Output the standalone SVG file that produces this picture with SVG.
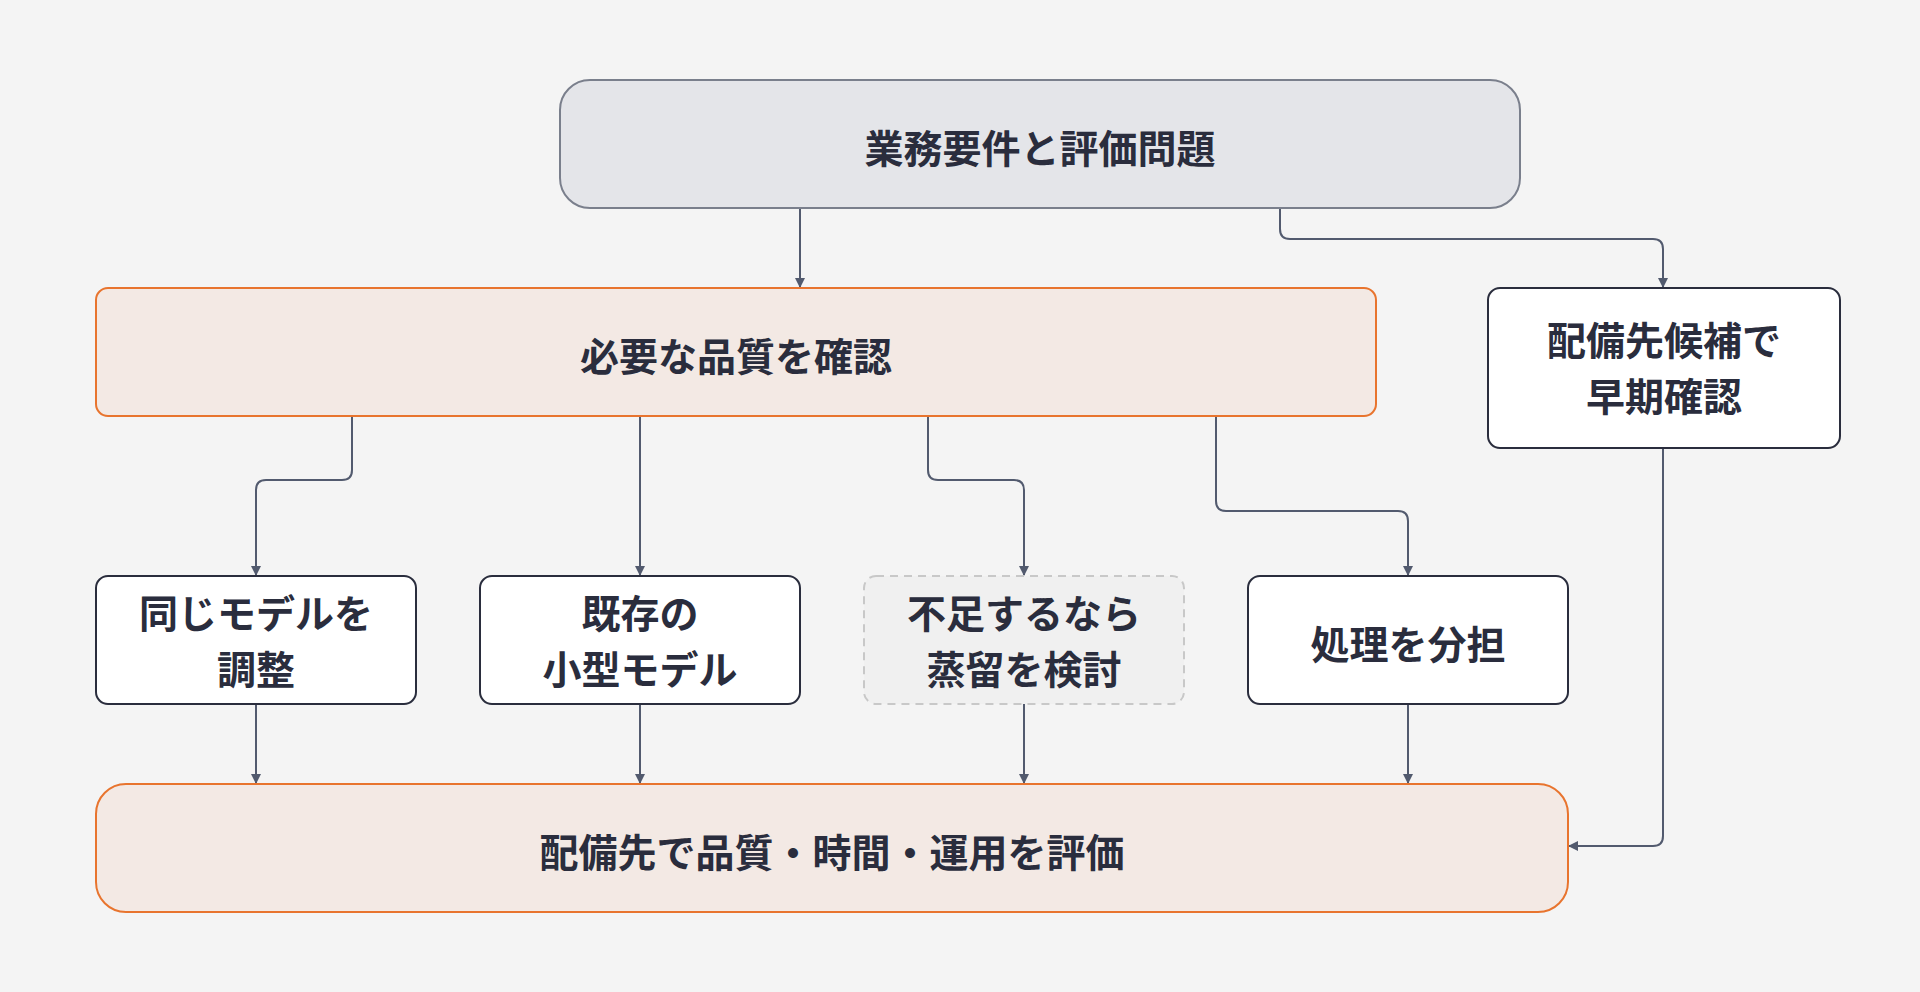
<svg xmlns="http://www.w3.org/2000/svg" width="1920" height="992" viewBox="0 0 1920 992">
<defs>
<marker id="ar" viewBox="0 0 10 10" refX="9" refY="5" markerWidth="10" markerHeight="10" markerUnits="userSpaceOnUse" orient="auto"><path d="M0,0 L10,5 L0,10 z" fill="#525a6e"/></marker>
<style>
text{font-family:"Noto Sans CJK JP","Noto Sans",sans-serif;font-weight:700;font-size:39px;fill:#2a2d3d;text-anchor:middle;dominant-baseline:central}
.c{fill:none;stroke:#525a6e;stroke-width:2;marker-end:url(#ar)}
.w{fill:#ffffff;stroke:#2a2d3d;stroke-width:2}
.o{fill:#f3e9e4;stroke:#e8742e;stroke-width:2}
</style>
</defs>
<rect width="1920" height="992" fill="#f4f4f4"/>
<g id="connectors">
<path class="c" d="M800,208 V287"/>
<path class="c" d="M1280,208 V229 Q1280,239 1290,239 H1653 Q1663,239 1663,249 V287"/>
<path class="c" d="M352,416 V470 Q352,480 342,480 H266 Q256,480 256,490 V575"/>
<path class="c" d="M640,416 V575"/>
<path class="c" d="M928,416 V470 Q928,480 938,480 H1014 Q1024,480 1024,490 V575"/>
<path class="c" d="M1216,416 V501 Q1216,511 1226,511 H1398 Q1408,511 1408,521 V575"/>
<path class="c" d="M256,704 V783"/>
<path class="c" d="M640,704 V783"/>
<path class="c" d="M1024,704 V783"/>
<path class="c" d="M1408,704 V783"/>
<path class="c" d="M1663,448 V836 Q1663,846 1653,846 H1569"/>
</g>
<g id="n1"><rect x="560" y="80" width="960" height="128" rx="30" fill="#e4e5e9" stroke="#7a7f8c" stroke-width="2"/><text x="1040" y="146">業務要件と評価問題</text></g>
<g id="n2"><rect class="o" x="96" y="288" width="1280" height="128" rx="12"/><text x="736" y="354">必要な品質を確認</text></g>
<g id="n3"><rect class="w" x="1488" y="288" width="352" height="160" rx="12"/><text x="1664" y="338">配備先候補で</text><text x="1664" y="394">早期確認</text></g>
<g id="n4"><rect class="w" x="96" y="576" width="320" height="128" rx="12"/><text x="256" y="611">同じモデルを</text><text x="256" y="667">調整</text></g>
<g id="n5"><rect class="w" x="480" y="576" width="320" height="128" rx="12"/><text x="640" y="611">既存の</text><text x="640" y="667">小型モデル</text></g>
<g id="n6"><rect x="864" y="576" width="320" height="128" rx="12" fill="#f0f0f0" stroke="#c8c8c8" stroke-width="2" stroke-dasharray="8 6"/><text x="1024" y="611">不足するなら</text><text x="1024" y="667">蒸留を検討</text></g>
<g id="n7"><rect class="w" x="1248" y="576" width="320" height="128" rx="12"/><text x="1408" y="642">処理を分担</text></g>
<g id="n8"><rect class="o" x="96" y="784" width="1472" height="128" rx="30"/><text x="832" y="850">配備先で品質・時間・運用を評価</text></g>
</svg>
